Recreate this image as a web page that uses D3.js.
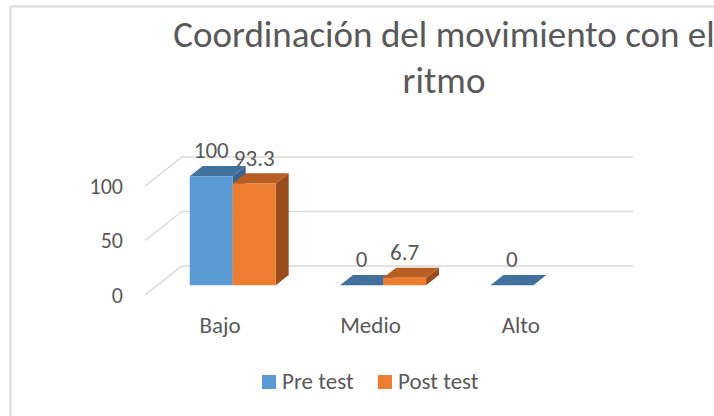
<!DOCTYPE html>
<html>
<head>
<meta charset="utf-8">
<script src="https://cdn.jsdelivr.net/npm/d3@7"></script>
<style>
  body { margin: 0; background: #fff; }
  svg text { font-family: Carlito, Calibri, Lato, sans-serif; fill: #595959; }
</style>
</head>
<body>
<div id="chart"></div>
<script>
const categories = ["Bajo", "Medio", "Alto"];
const seriesNames = ["Pre test", "Post test"];
const preTest = [100, 0, 0];
const postTest = [93.3, 6.7, null];
const yTicks = [0, 50, 100];
const titleLines = ["Coordinación del movimiento con el", "ritmo"];

const W = 714, H = 416;
const colors = {
  "Pre test": { front: "#5B9BD5", top: "#41719C", side: "#3A6591" },
  "Post test": { front: "#ED7D31", top: "#B85E22", side: "#9A4D1B" }
};

// oblique 3d: depth z from 0 (front of floor) to 1 (back wall)
const DX = 37, DY = -29;
const zFront = 0.34, zBack = 0.69;

const svg = d3.select("#chart").append("svg")
  .attr("width", W).attr("height", H);

// chart area frame
svg.append("rect")
  .attr("x", 10.5).attr("y", 6.5)
  .attr("width", W + 20).attr("height", H + 20)
  .attr("fill", "none").attr("stroke", "#d9d9d9").attr("stroke-width", 2);

const x = d3.scaleBand().domain(categories).range([145, 596]);
const y = d3.scaleLinear().domain([0, 100]).range([295, 186]);
const xSub = d3.scaleBand().domain(seriesNames).range([-43, 43]);

const pt = (px, v, z) => [px + z * DX, y(v) + z * DY];

// title
const title = svg.append("text")
  .attr("text-anchor", "middle")
  .style("font-size", "37px");
title.selectAll("tspan").data(titleLines).join("tspan")
  .attr("x", 444)
  .attr("y", (d, i) => 47 + i * 46)
  .text(d => d);

// walls: gridlines on back, diagonals on side
const grid = svg.append("g").attr("stroke", "#d9d9d9").attr("stroke-width", 1.5).attr("fill", "none");
yTicks.forEach(t => {
  const a = pt(x.range()[0], t, 0), b = pt(x.range()[0], t, 1), c = pt(x.range()[1], t, 1);
  grid.append("path").attr("d", d3.line()([a, b, c]));
});

// y axis labels
svg.append("g").selectAll("text").data(yTicks).join("text")
  .attr("x", 123).attr("y", d => y(d))
  .attr("dy", "0.35em")
  .attr("text-anchor", "end")
  .style("font-size", "22px")
  .text(d => d);

// category labels
svg.append("g").selectAll("text").data(categories).join("text")
  .attr("x", d => x(d) + x.bandwidth() / 2)
  .attr("y", 333)
  .attr("text-anchor", "middle")
  .style("font-size", "23px")
  .text(d => d);

// bars
const bars = [];
categories.forEach((c, i) => {
  [preTest, postTest].forEach((vals, j) => {
    if (vals[i] == null) return;
    bars.push({ cat: c, series: seriesNames[j], value: vals[i] });
  });
});

const barG = svg.append("g");
bars.forEach(d => {
  const x0 = x(d.cat) + x.bandwidth() / 2 + xSub(d.series);
  const x1 = x0 + xSub.bandwidth();
  const col = colors[d.series];
  const g = barG.append("g");
  const poly = ps => "M" + ps.map(p => p.join(",")).join("L") + "Z";
  // side
  g.append("path").attr("fill", col.side).attr("d", poly([
    pt(x1, 0, zFront), pt(x1, 0, zBack), pt(x1, d.value, zBack), pt(x1, d.value, zFront)]));
  // top
  g.append("path").attr("fill", col.top).attr("d", poly([
    pt(x0, d.value, zFront), pt(x0, d.value, zBack), pt(x1, d.value, zBack), pt(x1, d.value, zFront)]));
  // front
  if (d.value > 0) {
    g.append("path").attr("fill", col.front).attr("d", poly([
      pt(x0, 0, zFront), pt(x0, d.value, zFront), pt(x1, d.value, zFront), pt(x1, 0, zFront)]));
  }
  const lp = pt((x0 + x1) / 2, d.value, zBack);
  g.append("text")
    .attr("x", pt((x0 + x1) / 2, d.value, zFront)[0])
    .attr("y", lp[1] - 7.5)
    .attr("text-anchor", "middle")
    .style("font-size", "23px")
    .text(d.value);
});

// legend
const legend = svg.append("g");
const legendX = [262, 378];
seriesNames.forEach((s, i) => {
  legend.append("rect")
    .attr("x", legendX[i]).attr("y", 375)
    .attr("width", 14).attr("height", 14)
    .attr("fill", colors[s].front);
  legend.append("text")
    .attr("x", legendX[i] + 20).attr("y", 389)
    .style("font-size", "23px")
    .text(s);
});
</script>
</body>
</html>
